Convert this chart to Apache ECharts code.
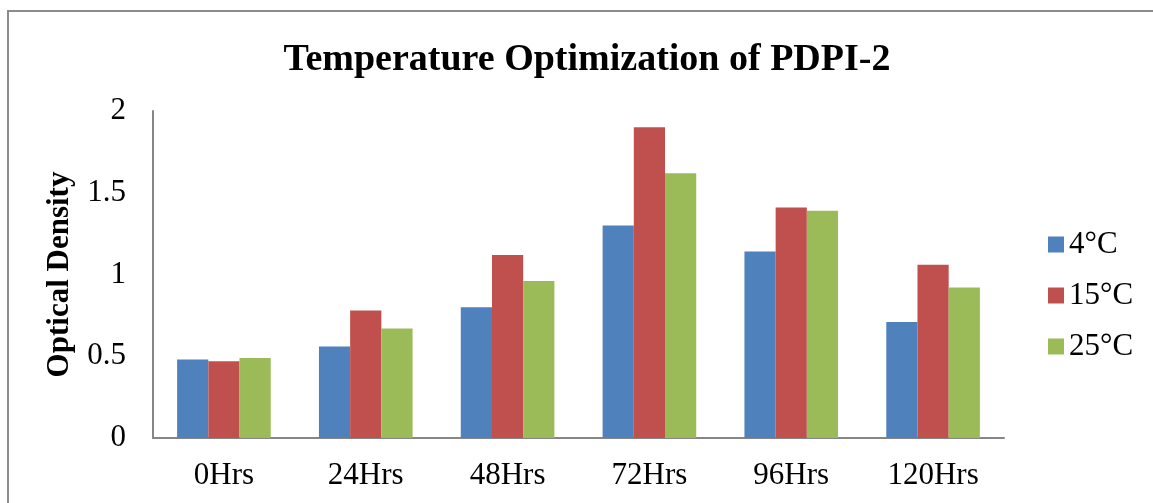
<!DOCTYPE html>
<html>
<head>
<meta charset="utf-8">
<script src="https://cdn.jsdelivr.net/npm/echarts@6/dist/echarts.min.js"></script>
<style>
  html, body { margin: 0; padding: 0; background: #fff; }
  #chart { width: 1153px; height: 503px; }
</style>
</head>
<body>
<div id="chart"></div>
<script>
// Sampling times (x axis)
const categories = ['0Hrs', '24Hrs', '48Hrs', '72Hrs', '96Hrs', '120Hrs'];
// Optical density readings at each incubation temperature
const od4C  = [0.48, 0.56, 0.80, 1.30, 1.14, 0.71];
const od15C = [0.47, 0.78, 1.12, 1.90, 1.41, 1.06];
const od25C = [0.49, 0.67, 0.96, 1.62, 1.39, 0.92];
const seriesNames = ['4°C', '15°C', '25°C'];
const yTicks = [0, 0.5, 1, 1.5, 2];

const font = 'Liberation Serif, Times New Roman, serif';
const colors = ['#4F81BD', '#C0504D', '#9BBB59'];

const chart = echarts.init(document.getElementById('chart'), null, { renderer: 'canvas' });
chart.setOption({
  animation: false,
  backgroundColor: '#fff',
  color: colors,
  // chart-area frame (runs off the right and bottom edges)
  graphic: [{
    type: 'rect',
    shape: { x: 8, y: 11, width: 1300, height: 700 },
    style: { fill: 'none', stroke: '#8c8c8c', lineWidth: 2 },
    silent: true
  }],
  title: {
    text: 'Temperature Optimization of PDPI-2',
    left: 582, top: 36, textAlign: 'center',
    textStyle: { fontFamily: font, fontWeight: 'bold', fontSize: 38, color: '#000' }
  },
  legend: {
    orient: 'vertical',
    left: 1048, top: 229,
    padding: 0,
    itemWidth: 16, itemHeight: 16, itemGap: 20,
    icon: 'rect',
    data: seriesNames,
    textStyle: { fontFamily: font, fontSize: 31, color: '#000' }
  },
  grid: { left: 153, right: 149, top: 111, bottom: 65, containLabel: false },
  xAxis: {
    type: 'category',
    data: categories,
    axisLine: { lineStyle: { color: '#868686', width: 2 } },
    axisTick: { show: false },
    axisLabel: { fontFamily: font, fontSize: 31, color: '#000', margin: 22 }
  },
  yAxis: {
    type: 'value',
    min: yTicks[0], max: yTicks[yTicks.length - 1], interval: 0.5,
    name: 'Optical Density',
    nameLocation: 'middle',
    nameGap: 78,
    nameTextStyle: { fontFamily: font, fontWeight: 'bold', fontSize: 31, color: '#000' },
    axisLine: { show: true, lineStyle: { color: '#868686', width: 2 } },
    axisTick: { show: false },
    splitLine: { show: false },
    axisLabel: { fontFamily: font, fontSize: 31, color: '#000', margin: 27 }
  },
  series: [
    { name: seriesNames[0], type: 'bar', data: od4C,  barGap: '0%', barCategoryGap: '34%' },
    { name: seriesNames[1], type: 'bar', data: od15C, barGap: '0%', barCategoryGap: '34%' },
    { name: seriesNames[2], type: 'bar', data: od25C, barGap: '0%', barCategoryGap: '34%' }
  ]
});
</script>
</body>
</html>
